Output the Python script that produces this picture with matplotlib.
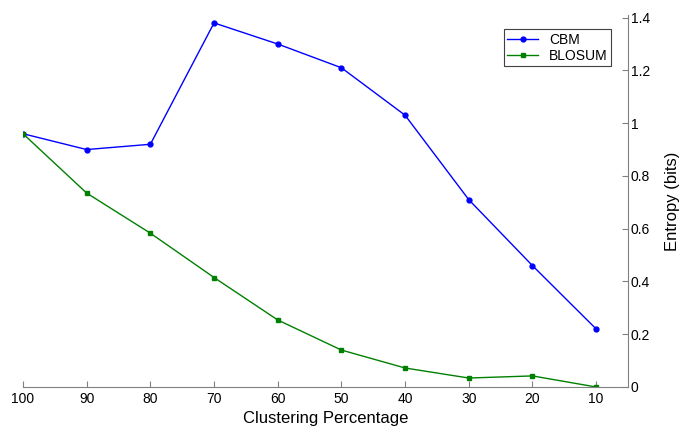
import matplotlib
matplotlib.use('Agg')
import matplotlib.pyplot as plt

plt.rcParams['font.family'] = ['Liberation Sans', 'DejaVu Sans']

# data
clustering = [100, 90, 80, 70, 60, 50, 40, 30, 20, 10]
cbm = [0.96, 0.90, 0.92, 1.38, 1.30, 1.21, 1.03, 0.71, 0.46, 0.22]
blosum = [0.96, 0.735, 0.583, 0.415, 0.254, 0.14, 0.072, 0.034, 0.042, 0.0]
yticks = [0, 0.2, 0.4, 0.6, 0.8, 1, 1.2, 1.4]
ytick_labels = ['0', '0.2', '0.4', '0.6', '0.8', '1', '1.2', '1.4']

fig = plt.figure(figsize=(6.85, 4.28), dpi=100)
ax = fig.add_axes([23 / 685, 41 / 428, 605 / 685, 372 / 428])

ax.plot(clustering, cbm, color='#0000ff', marker='o', markersize=3.5, linewidth=1, label='CBM')
ax.plot(clustering, blosum, color='#008000', marker='s', markersize=3.5, linewidth=1, label='BLOSUM')

ax.set_xlim(100, 5)
ax.set_ylim(0, 1.41)
ax.set_xticks(clustering)
ax.set_yticks(yticks)
ax.set_yticklabels(ytick_labels)

ax.yaxis.tick_right()
ax.yaxis.set_label_position('right')
ax.spines['top'].set_visible(False)
ax.spines['left'].set_visible(False)
for s in ['bottom', 'right']:
    ax.spines[s].set_color('#808080')
ax.tick_params(direction='in', length=4, color='#808080', labelsize=10)
ax.tick_params(axis='y', pad=2)

ax.set_xlabel('Clustering Percentage', fontsize=12)
ax.set_ylabel('Entropy (bits)', fontsize=12, labelpad=11)

leg = ax.legend(loc='upper right', bbox_to_anchor=(0.972, 0.962), borderaxespad=0,
                fontsize=10, fancybox=False, framealpha=1, edgecolor='#404040',
                handlelength=2.2, borderpad=0.25, labelspacing=0.15)
leg.get_frame().set_linewidth(0.8)

plt.savefig('out.png', dpi=100)
